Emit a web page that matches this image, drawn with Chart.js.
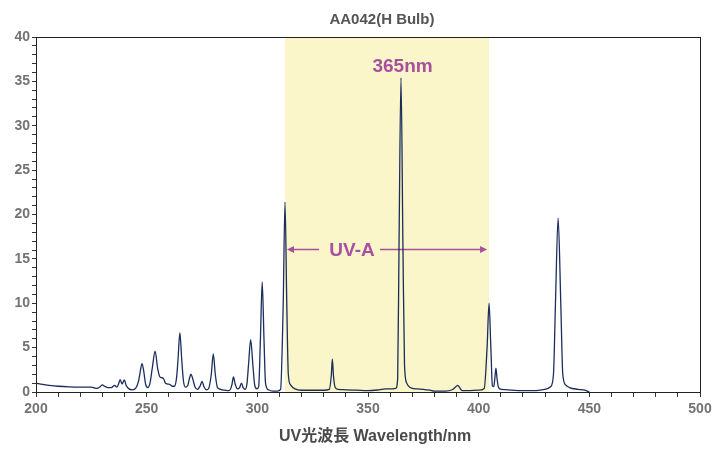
<!DOCTYPE html>
<html>
<head>
<meta charset="utf-8">
<script src="https://cdn.jsdelivr.net/npm/chart.js@4/dist/chart.umd.min.js"></script>
<style>
html,body{margin:0;padding:0;background:#fff;}
#wrap{width:728px;height:449px;position:relative;}
canvas{display:block;}
</style>
</head>
<body>
<div id="wrap"><canvas id="c" width="728" height="449"></canvas></div>
<script>
const chartTitle = "AA042(H Bulb)";
const xTitle = "UV光波長 Wavelength/nm";
const wavelengths = [200,203,206,210,215,220,225,226.5,227.5,229,230,231,232.5,234,235.5,236.5,237.3,238,238.9,239.9,240.8,242,243.5,245,246.3,247.1,247.9,248.7,249.5,250.5,251.5,252.6,253.8,255,256,257.5,258.5,259.5,260.5,261.5,262.5,263.5,264.2,265,265.8,266.6,267.5,268.5,269.3,270,270.8,271.8,273,274.2,275,275.9,277,278,279.2,280.1,281,282,283.5,285,286.5,287.5,288.5,289.2,290,291,292,292.8,293.6,294.5,295.3,296,297,298,298.8,299.8,300.6,301.4,302.2,303,303.7,305,307,309,310.5,311.7,312.5,313.3,314,315,317,320,325,330,332.5,333.4,333.9,334.4,335.2,336.5,340,345,350,355,358,361,362.5,363.4,364,364.9,365.8,366.5,367.5,369,372,375,378,380,385,388,389.7,390.5,391.4,392.5,395,400,402.5,403.8,404.7,405.5,406.2,406.8,407.3,407.8,408.3,409,410.5,413,420,425,430,432.5,433.8,434.7,435.9,437.1,438,439.3,441,445,448,450];
const intensity = [1.0,0.85,0.75,0.65,0.58,0.55,0.55,0.45,0.4,0.6,0.8,0.65,0.5,0.5,0.75,0.55,0.9,1.4,0.9,1.35,0.7,0.35,0.25,0.4,1.2,2.3,3.2,2.3,0.9,0.5,1.0,2.8,4.6,2.6,1.7,1.55,1.0,0.9,0.85,0.65,0.65,1.6,3.8,6.7,3.8,1.3,0.55,0.7,1.5,2.0,1.5,0.6,0.3,0.7,1.2,0.6,0.25,0.4,2.0,4.3,2.0,0.5,0.3,0.2,0.15,0.2,0.8,1.7,0.9,0.35,0.5,1.0,0.5,0.3,0.9,3.0,5.9,3.0,0.8,0.35,0.6,6.0,12.4,6.0,1.0,0.25,0.1,0.1,0.3,10.0,21.4,10.0,2.0,0.8,0.35,0.2,0.2,0.2,0.3,1.8,3.7,1.8,0.5,0.3,0.25,0.2,0.15,0.25,0.35,0.35,0.4,1.5,16.0,35.4,16.0,3.0,1.0,0.5,0.35,0.3,0.2,0.1,0.1,0.25,0.6,0.75,0.5,0.15,0.15,0.2,0.4,5.0,10.0,5.0,0.7,0.6,1.5,2.7,1.5,0.5,0.3,0.25,0.15,0.15,0.3,0.6,2.0,10.0,19.6,10.0,2.0,0.8,0.5,0.3,0.2,0.0];
const uvaBand = [312.5, 404.7];
const uvaArrowTips = [313.4, 403.8];
const uvaArrowGap = [327.9, 355.4];
const uvaArrowY = 16.1;
const uvaLabel = "UV-A";
const uvaLabelX = 342.8;
const peakLabel = "365nm";
const peakLabelPos = [365.6, 36.7];
const titleX = 356.3;
const xTitleX = 353.2;

const purple = "#a8509f";
const FONT = "'Liberation Sans', Arial, 'Noto Sans CJK JP', sans-serif";

const overlay = {
  id: "overlay",
  beforeDatasetsDraw(chart) {
    const {ctx, chartArea: a, scales: {x, y}} = chart;
    ctx.save();
    const b0 = x.getPixelForValue(uvaBand[0]), b1 = x.getPixelForValue(uvaBand[1]);
    ctx.fillStyle = "#faf6c9";
    ctx.fillRect(b0, a.top, b1 - b0, a.bottom - a.top);
    const ax0 = x.getPixelForValue(uvaArrowTips[0]), ax1 = x.getPixelForValue(uvaArrowTips[1]);
    const g0 = x.getPixelForValue(uvaArrowGap[0]), g1 = x.getPixelForValue(uvaArrowGap[1]);
    const ay = Math.round(y.getPixelForValue(uvaArrowY)) + 0.5;
    ctx.strokeStyle = purple;
    ctx.lineWidth = 1.5;
    ctx.beginPath();
    ctx.moveTo(ax0 + 5, ay); ctx.lineTo(g0, ay);
    ctx.moveTo(g1, ay); ctx.lineTo(ax1 - 5, ay);
    ctx.stroke();
    ctx.fillStyle = purple;
    ctx.beginPath();
    ctx.moveTo(ax0, ay); ctx.lineTo(ax0 + 7, ay - 3.5); ctx.lineTo(ax0 + 7, ay + 3.5); ctx.closePath(); ctx.fill();
    ctx.beginPath();
    ctx.moveTo(ax1, ay); ctx.lineTo(ax1 - 7, ay - 3.5); ctx.lineTo(ax1 - 7, ay + 3.5); ctx.closePath(); ctx.fill();
    ctx.textAlign = "center";
    ctx.textBaseline = "middle";
    ctx.font = "bold 19px " + FONT;
    ctx.fillText(uvaLabel, x.getPixelForValue(uvaLabelX), ay + 1);
    ctx.fillText(peakLabel, x.getPixelForValue(peakLabelPos[0]), y.getPixelForValue(peakLabelPos[1]));
    ctx.restore();
  },
  afterDatasetsDraw(chart) {
    const {ctx, chartArea: a, scales: {x}} = chart;
    ctx.save();
    ctx.strokeStyle = "#222";
    ctx.lineWidth = 1;
    ctx.strokeRect(Math.round(a.left) + 0.5, Math.round(a.top) + 0.5, Math.round(a.right - a.left), Math.round(a.bottom - a.top));
    ctx.textAlign = "center";
    ctx.textBaseline = "middle";
    ctx.fillStyle = "#555";
    ctx.font = "bold 15px " + FONT;
    ctx.fillText(chartTitle, x.getPixelForValue(titleX), 20);
    ctx.fillStyle = "#4a4a4a";
    ctx.font = "bold 16px " + FONT;
    ctx.fillText(xTitle, x.getPixelForValue(xTitleX), 437);
    ctx.restore();
  }
};

new Chart(document.getElementById("c"), {
  type: "line",
  data: {
    datasets: [{
      data: wavelengths.map((w, i) => ({x: w, y: intensity[i]})),
      borderColor: "#1b2d5c",
      borderWidth: 1.3,
      pointRadius: 0,
      fill: false,
      cubicInterpolationMode: "monotone"
    }]
  },
  options: {
    responsive: false,
    maintainAspectRatio: false,
    animation: false,
    devicePixelRatio: 1,
    layout: {padding: {left: 0, right: 28, top: 37, bottom: 0}},
    plugins: {
      legend: {display: false},
      tooltip: {enabled: false},
      title: {display: false}
    },
    scales: {
      x: {
        type: "linear",
        min: 200, max: 500,
        border: {display: true, color: "#222", width: 1},
        grid: {display: true, drawOnChartArea: false, drawTicks: true, tickLength: 5, color: "#333", tickColor: "#333"},
        ticks: {
          stepSize: 10,
          autoSkip: false,
          maxRotation: 0,
          padding: 4,
          color: "#737373",
          font: {family: FONT, size: 14, weight: "bold"},
          callback: v => (v % 50 === 0 ? String(v) : "")
        },
        afterFit(s) { s.height = 57; }
      },
      y: {
        min: 0, max: 40,
        border: {display: true, color: "#222", width: 1},
        grid: {display: true, drawOnChartArea: false, drawTicks: true, tickLength: 4, color: "#333", tickColor: "#333"},
        ticks: {
          stepSize: 1,
          autoSkip: false,
          padding: 2,
          color: "#737373",
          font: {family: FONT, size: 14, weight: "bold"},
          callback: v => (v % 5 === 0 ? String(v) : "")
        },
        afterFit(s) { s.width = 36; }
      }
    }
  },
  plugins: [overlay]
});
</script>
</body>
</html>
